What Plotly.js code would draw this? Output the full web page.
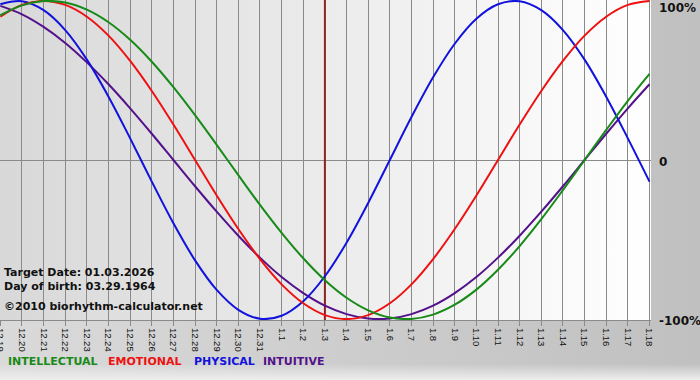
<!DOCTYPE html>
<html>
<head>
<meta charset="utf-8">
<script src="https://cdn.plot.ly/plotly-3.0.1.min.js"></script>
<style>
  html, body { margin: 0; padding: 0; }
  #chart {
    width: 700px; height: 380px;
    background:
      linear-gradient(to right, #d8d8d8, #ffffff) 0 0 / 651px 320px no-repeat,
      linear-gradient(to bottom, rgba(238,238,238,0), #eeeeee) 0 364px / 700px 16px no-repeat,
      linear-gradient(to right, #dadada, #c0c0c0);
  }
</style>
</head>
<body>
<div id="chart"></div>
<script>
// Day labels (month.day)
const dayLabels = ['12.19','12.20','12.21','12.22','12.23','12.24','12.25','12.26','12.27','12.28','12.29','12.30','12.31',
  '1.1','1.2','1.3','1.4','1.5','1.6','1.7','1.8','1.9','1.10','1.11','1.12','1.13','1.14','1.15','1.16','1.17','1.18'];
const targetLabel = '1.3';

// Cycle values (fraction of 100%), read per day
const physical = [0.979,0.998,0.942,0.817,0.631,0.398,0.136,-0.136,-0.398,-0.631,-0.817,-0.942,-0.998,-0.979,-0.888,-0.731,
  -0.520,-0.270,0.000,0.270,0.520,0.731,0.888,0.979,0.998,0.942,0.817,0.631,0.398,0.136,-0.136];
const emotional = [0.901,0.975,1.000,0.975,0.901,0.782,0.623,0.434,0.223,0.000,-0.223,-0.434,-0.623,-0.782,-0.901,-0.975,
  -1.000,-0.975,-0.901,-0.782,-0.623,-0.434,-0.223,0.000,0.223,0.434,0.623,0.782,0.901,0.975,1.000];
const intellectual = [0.910,0.972,0.999,0.990,0.945,0.866,0.756,0.618,0.458,0.282,0.095,-0.095,-0.282,-0.458,-0.618,-0.756,
  -0.866,-0.945,-0.990,-0.999,-0.972,-0.910,-0.815,-0.690,-0.541,-0.372,-0.189,0.000,0.189,0.372,0.541];
const intuitive = [0.969,0.916,0.837,0.736,0.614,0.476,0.325,0.165,0.000,-0.165,-0.325,-0.476,-0.614,-0.736,-0.837,-0.916,
  -0.969,-0.997,-0.997,-0.969,-0.916,-0.837,-0.736,-0.614,-0.476,-0.325,-0.165,0.000,0.165,0.325,0.476];

const seriesNames = ['INTELLECTUAL','EMOTIONAL','PHYSICAL','INTUITIVE'];
const seriesColors = ['#178a17','#ee1111','#1212dd','#53118a'];
const yTickVals = [1, 0, -1];
const yTickText = ['100%', '0', '-100%'];
const infoLines = ['Target Date: 01.03.2026', 'Day of birth: 03.29.1964', '©2010 biorhythm-calculator.net'];

const yRange = [-1.006, 1.006];
const seriesData = [intellectual, emotional, physical, intuitive];
const drawOrder = [3, 2, 1, 0];
const traces = [{
  // target-date marker, spanning the full value axis
  type: 'scatter', mode: 'lines',
  x: [targetLabel, targetLabel], y: yRange,
  line: { color: '#8e2020', width: 2 }, hoverinfo: 'skip'
}].concat(drawOrder.map(i => ({
  type: 'scatter', mode: 'lines',
  x: dayLabels, y: seriesData[i], name: seriesNames[i],
  line: { color: seriesColors[i], width: 2, shape: 'spline', smoothing: 1 },
  hoverinfo: 'skip'
})));

const PW = 651, PH = 320;
const annotations = [];
// info text
const infoY = [272.7, 286.2, 306.7];
infoLines.forEach((t, k) => annotations.push({
  xref: 'paper', yref: 'paper', x: 3 / PW, y: 1 - infoY[k] / PH,
  xanchor: 'left', yanchor: 'middle', showarrow: false, borderpad: 0,
  text: '<b>' + t + '</b>',
  font: { family: 'DejaVu Sans', size: 11, color: '#111111' }
}));
// legend text
const legX = [7.3, 107.3, 192.7, 262.3];
seriesNames.forEach((n, k) => annotations.push({
  xref: 'paper', yref: 'paper', x: legX[k] / PW, y: 1 - 361.7 / PH,
  xanchor: 'left', yanchor: 'middle', showarrow: false, borderpad: 0,
  text: '<b>' + n + '</b>',
  font: { family: 'DejaVu Sans', size: 11, color: seriesColors[k] }
}));
// right y labels
const yShift = [-7, -2, -2];
yTickVals.forEach((v, k) => annotations.push({
  xref: 'paper', yref: 'y', x: 1, y: v, xshift: 7,
  xanchor: 'left', yanchor: 'middle', yshift: yShift[k], showarrow: false, borderpad: 0,
  text: '<b>' + yTickText[k] + '</b>',
  font: { family: 'DejaVu Sans', size: 12, color: '#111111' }
}));

const layout = {
  width: 700, height: 380,
  margin: { l: 0, r: 49, t: 0, b: 60, pad: 0 },
  paper_bgcolor: 'rgba(0,0,0,0)',
  plot_bgcolor: 'rgba(0,0,0,0)',
  showlegend: false,
  xaxis: {
    type: 'category',
    categoryorder: 'array', categoryarray: dayLabels,
    range: [-0.015, 30.07],
    tickmode: 'array', tickvals: dayLabels, ticktext: dayLabels,
    tickangle: 90,
    tickfont: { family: 'Liberation Sans', size: 9.5, color: '#111111' },
    ticks: 'outside', ticklen: 5, tickcolor: '#8a8a8a', tickwidth: 1,
    showgrid: true, gridcolor: '#8a8a8a', gridwidth: 1,
    showline: true, linecolor: '#8a8a8a', linewidth: 1,
    zeroline: false, fixedrange: true
  },
  yaxis: {
    range: yRange,
    showticklabels: false, ticks: '',
    showgrid: false,
    zeroline: true, zerolinecolor: '#8a8a8a', zerolinewidth: 1,
    showline: false, fixedrange: true
  },
  annotations: annotations
};

Plotly.newPlot('chart', traces, layout, { staticPlot: true, displayModeBar: false });
</script>
</body>
</html>
